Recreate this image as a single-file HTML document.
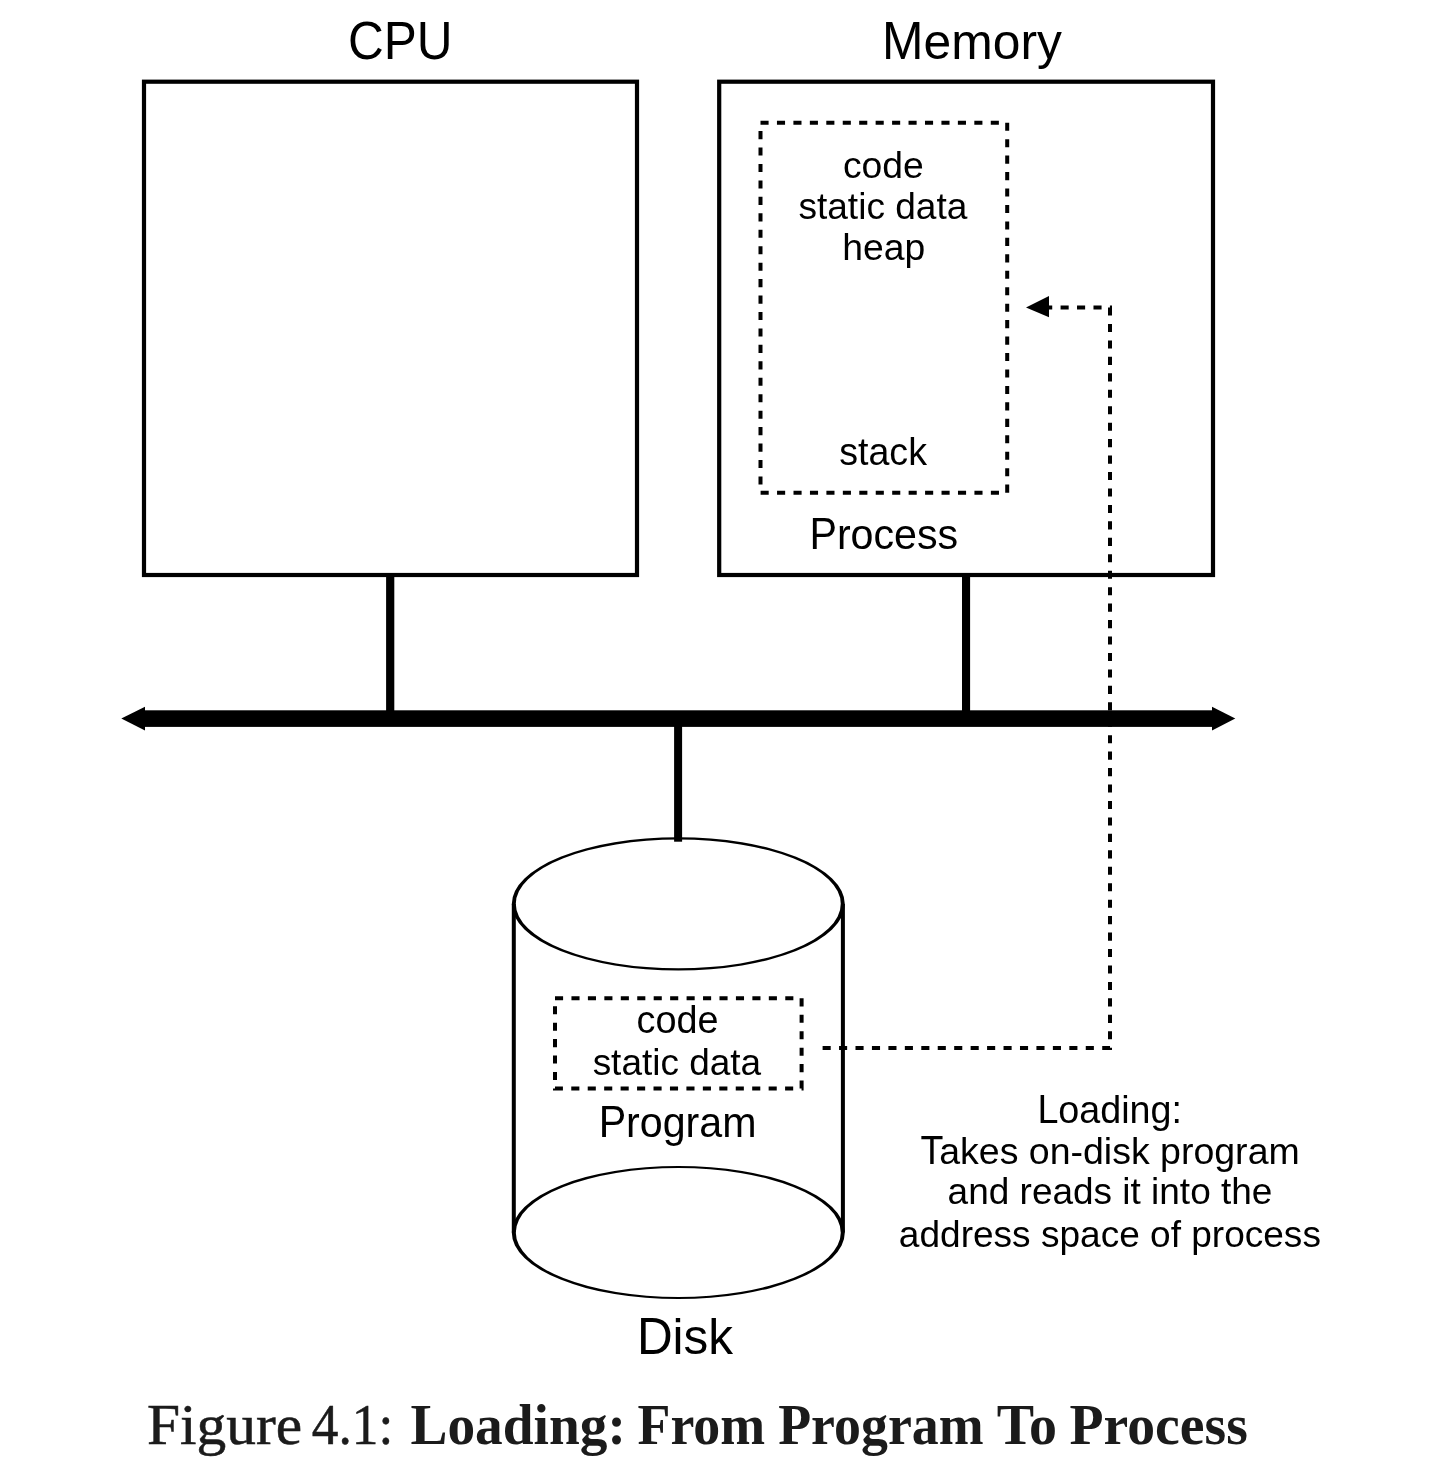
<!DOCTYPE html>
<html>
<head>
<meta charset="utf-8">
<style>
html,body{margin:0;padding:0;background:#fff;width:1450px;height:1470px;overflow:hidden}
svg{display:block;will-change:transform}
.s{font-family:"Liberation Sans",sans-serif;fill:#000}
.c{font-family:"Liberation Serif",serif;fill:#1b1b1b}
</style>
</head>
<body>
<svg width="1450" height="1470" viewBox="0 0 1450 1470">
<rect x="144" y="81.7" width="493" height="493.3" fill="none" stroke="#000" stroke-width="4.2"/>
<rect x="719.2" y="81.7" width="493.8" height="493.3" fill="none" stroke="#000" stroke-width="4.2"/>
<rect x="386.1" y="575" width="8.2" height="143" fill="#000"/>
<rect x="962" y="575" width="8.1" height="143" fill="#000"/>
<rect x="674.1" y="718" width="8" height="123.7" fill="#000"/>
<rect x="144" y="710.3" width="1069" height="16.6" fill="#000"/>
<polygon points="121.3,718.6 145,706.8 145,730.6" fill="#000"/>
<polygon points="1235.3,718.6 1212,706.8 1212,730.6" fill="#000"/>
<rect x="760.5" y="122.7" width="246.7" height="370.1" fill="none" stroke="#000" stroke-width="4" stroke-dasharray="8.1 8.348"/>
<path d="M513.8 904 V1232.5 M842.9 904 V1232.5" stroke="#000" stroke-width="4" fill="none"/>
<path fill="#000" fill-rule="evenodd" d="M511.8 903.9 a166.5 66.6 0 1 0 333 0 a166.5 66.6 0 1 0 -333 0 Z M515.8 903.9 a162.5 64.4 0 1 0 325 0 a162.5 64.4 0 1 0 -325 0 Z"/>
<path fill="#000" fill-rule="evenodd" d="M511.8 1232.5 a166.5 66.6 0 1 0 333 0 a166.5 66.6 0 1 0 -333 0 Z M515.8 1232.5 a162.5 64.4 0 1 0 325 0 a162.5 64.4 0 1 0 -325 0 Z"/>
<rect x="555" y="998.2" width="246.6" height="90.4" fill="none" stroke="#000" stroke-width="4" stroke-dasharray="8.1 8.348"/>
<path d="M822.6 1048 H1110 V307.6 H1044" fill="none" stroke="#000" stroke-width="4" stroke-dasharray="8.1 8.348"/>
<polygon points="1026,307.5 1049,296 1049,317.2" fill="#000"/>
<g class="s">
<text transform="translate(400.2 58.8) scale(1 1.072)" font-size="49.5" text-anchor="middle">CPU</text>
<text transform="translate(972.0 59.0) scale(1 1.015)" font-size="49.8" x="-48.44 -20.74 20.73 48.41 64.99">emory</text>
<text transform="translate(882.11 59.0) scale(1 1.075)" font-size="49.8">M</text>
<text transform="translate(883.3 178.0) scale(1 1.008)" font-size="37.3" x="-40.43 -21.79 -1.06 19.69">code</text>
<text transform="translate(882.9 219.3) scale(1 1.008)" font-size="37.1" x="-84.52 -65.99 -55.68 -35.06 -24.76 -16.51 12.33 32.96 53.58 63.88">staticdata</text>
<text transform="translate(883.8 259.9) scale(1 1.008)" font-size="37.3" x="-41.48 -20.75 -0.01 20.72">heap</text>
<text transform="translate(883.1 465.1) scale(1 1.008)" font-size="37.6" x="-43.88 -25.08 -14.64 6.26 25.06">stack</text>
<text transform="translate(883.8 549.0) scale(1 1.01)" font-size="41.2" x="-46.93 -33.2 -10.3 10.28 33.19 53.79">rocess</text>
<text transform="translate(809.42 549.0) scale(1 1.08)" font-size="41.2">P</text>
<text transform="translate(677.6 1033.1) scale(1 1.008)" font-size="37.8" x="-40.98 -22.08 -1.07 19.94">code</text>
<text transform="translate(676.9 1074.5) scale(1 1.008)" font-size="37.0" x="-84.28 -65.79 -55.52 -34.96 -24.69 -16.47 12.29 32.86 53.42 63.69">staticdata</text>
<text transform="translate(677.6 1137.0) scale(1 1.01)" font-size="41.2" x="-51.51 -37.78 -14.88 8.02 21.73 44.64">rogram</text>
<text transform="translate(598.64 1137.0) scale(1 1.075)" font-size="41.2">P</text>
<text transform="translate(685.0 1353.6) scale(1 1.01)" font-size="49.5" x="-12.38 -1.39 23.36">isk</text>
<text transform="translate(636.89 1353.6) scale(1 1.063)" font-size="49.5">D</text>
<text transform="translate(1109.7 1122.8) scale(1 1.008)" font-size="37.7" x="-51.36 -30.39 -9.43 11.53 19.9 40.87 61.83">oading:</text>
<text transform="translate(1037.38 1122.8) scale(1 1.07)" font-size="37.7">L</text>
<text transform="translate(1110.1 1163.8) scale(1 1.008)" font-size="37.5" x="-170.88 -150.02 -131.29 -110.43 -81.27 -60.41 -39.58 -27.08 -6.24 2.1 20.84 50.0 70.86 83.34 104.19 125.03 137.53 158.37">akeson-diskprogram</text>
<text transform="translate(920.48 1163.8) scale(1 1.07)" font-size="37.5">T</text>
<text transform="translate(1110.0 1204.3) scale(1 1.008)" font-size="37.0" x="-162.4 -141.85 -121.29 -90.44 -78.13 -57.56 -37.0 -16.44 12.32 20.53 41.09 49.29 69.87 80.14 110.98 121.26 141.81">andreadsitintothe</text>
<text transform="translate(1109.9 1246.5) scale(1 1.008)" font-size="37.05" x="-211.04 -190.45 -169.84 -149.25 -136.91 -116.31 -97.79 -68.98 -50.46 -29.86 -9.27 9.25 40.14 60.75 81.32 101.93 114.25 134.86 153.38 173.98 192.5">addressspaceofprocess</text>
</g>
<text class="c" transform="translate(146.92 1443.7) scale(1.0712 1.013)" font-size="55.5" stroke="#1b1b1b" stroke-width="0.5">Figure</text>
<text class="c" transform="translate(311.73 1443.7) scale(0.9614 1.013)" font-size="55.5" stroke="#1b1b1b" stroke-width="0.5">4.1:</text>
<text class="c" transform="translate(410.49 1443.7) scale(0.9981 1.013)" font-size="55.5" font-weight="700">Loading:</text>
<text class="c" transform="translate(637.52 1443.7) scale(0.9705 1.013)" font-size="55.5" font-weight="700">From</text>
<text class="c" transform="translate(778.22 1443.7) scale(0.9705 1.013)" font-size="55.5" font-weight="700">Program</text>
<text class="c" transform="translate(996.68 1443.7) scale(1.0087 1.013)" font-size="55.5" font-weight="700">To</text>
<text class="c" transform="translate(1069.49 1443.7) scale(1.0041 1.013)" font-size="55.5" font-weight="700">Process</text>
</svg>
</body>
</html>
